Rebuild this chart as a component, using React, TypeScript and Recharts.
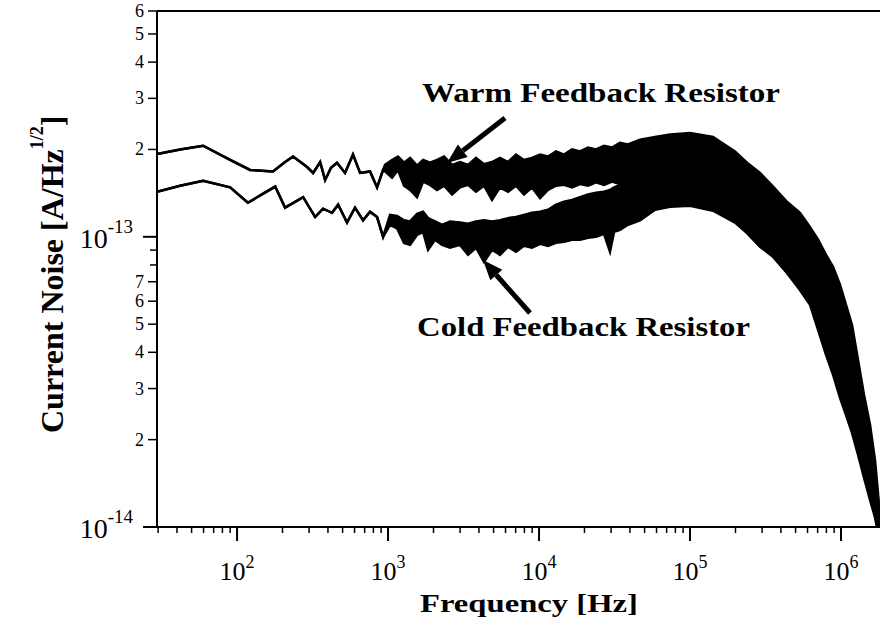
import React from 'react';
import { ComposedChart, Area, XAxis, YAxis, ReferenceLine } from 'recharts';

// amplitudes are in units of 1e-13 A/Hz^1/2
const UNIT = 1e-13;

const warmFreq = [
  29.5, 42, 59.6, 90, 122, 173, 208, 235, 291, 319, 355, 383, 419, 459, 519, 586, 653, 760, 846, 927,
  955, 1062, 1164, 1276, 1400, 1556, 1706, 1897, 2112, 2350, 2655, 2998, 3386, 3825, 4321, 4881, 5514,
  6229, 7036, 7948, 8979, 10160, 11470, 12960, 14640, 16540, 18680, 21100, 23840, 26930, 30420, 34360,
  38820, 46650, 58650, 73790, 100000, 141900, 198600, 238400, 291000, 354800, 438500, 534600, 623700,
  704700, 796000, 885100, 984000, 1079000, 1183000, 1297000, 1420000, 1556000, 1679000, 1812000,
];
const warmHi = [
  1.93, 2.0, 2.06, 1.84, 1.7, 1.68, 1.81, 1.89, 1.74, 1.66, 1.81, 1.57, 1.73, 1.8, 1.66, 1.92, 1.66, 1.68, 1.48, 1.7,
  1.77, 1.84, 1.89, 1.8, 1.87, 1.76, 1.84, 1.8, 1.84, 1.89, 1.77, 1.81, 1.77, 1.87, 1.78, 1.81, 1.87,
  1.81, 1.92, 1.84, 1.87, 1.92, 1.89, 1.97, 1.92, 2.0, 1.97, 2.03, 2.0, 2.06, 2.03, 2.11,
  2.08, 2.16, 2.21, 2.25, 2.28, 2.21, 1.97, 1.8, 1.66, 1.49, 1.32, 1.21, 1.08,
  0.977, 0.867, 0.788, 0.684, 0.583, 0.497, 0.376, 0.285, 0.225, 0.17, 0.11,
];
const warmLo = [
  1.93, 2.0, 2.06, 1.84, 1.7, 1.68, 1.81, 1.89, 1.74, 1.66, 1.81, 1.57, 1.73, 1.8, 1.66, 1.92, 1.66, 1.68, 1.48, 1.7,
  1.68, 1.6, 1.7, 1.5, 1.45, 1.37, 1.55, 1.51, 1.45, 1.5, 1.4, 1.48, 1.51, 1.43, 1.5, 1.34, 1.48,
  1.43, 1.5, 1.4, 1.48, 1.36, 1.45, 1.5, 1.51, 1.48, 1.52, 1.5, 1.54, 1.51, 1.55, 1.52,
  1.48, 1.34, 1.34, 1.4, 1.4, 1.34, 1.24, 1.14, 1.04, 0.938, 0.833, 0.739, 0.656,
  0.583, 0.478, 0.408, 0.335, 0.285, 0.243, 0.1995, 0.164, 0.134, 0.115, 0.09,
];

const coldFreq = [
  29.5, 42, 59.6, 90, 118, 146, 179, 208, 274, 329, 371, 426, 467, 535, 604, 683, 760, 846, 927,
  1031, 1147, 1276, 1400, 1556, 1706, 1841, 2048, 2279, 2574, 2998, 3386, 3825, 4321, 4881, 5514, 6229,
  7036, 7948, 8979, 10160, 11470, 12960, 14640, 16540, 18680, 21100, 23840, 26930, 29510, 31420, 34360,
  38820, 46650, 58650, 73790, 100000, 141900, 198600, 238400, 291000, 354800, 438500, 534600, 623700,
  704700, 796000, 885100, 984000, 1079000, 1183000, 1297000, 1420000, 1556000, 1679000, 1812000,
];
const coldHi = [
  1.43, 1.5, 1.56, 1.48, 1.31, 1.4, 1.49, 1.26, 1.37, 1.17, 1.25, 1.21, 1.29, 1.12, 1.26, 1.14, 1.22, 1.17, 1.0,
  1.19, 1.18, 1.14, 1.13, 1.2, 1.22, 1.16, 1.13, 1.1, 1.13, 1.12, 1.11, 1.13, 1.14, 1.13, 1.14, 1.16,
  1.17, 1.19, 1.21, 1.22, 1.24, 1.29, 1.32, 1.34, 1.37, 1.4, 1.42, 1.43, 1.45, 1.48, 1.51,
  1.57, 1.64, 1.64, 1.7, 1.7, 1.64, 1.51, 1.4, 1.29, 1.19, 1.057, 0.938, 0.833,
  0.739, 0.631, 0.538, 0.441, 0.376, 0.321, 0.253, 0.1995, 0.157, 0.129, 0.098,
];
const coldLo = [
  1.43, 1.5, 1.56, 1.48, 1.31, 1.4, 1.49, 1.26, 1.37, 1.17, 1.25, 1.21, 1.29, 1.12, 1.26, 1.14, 1.22, 1.17, 1.0,
  1.1, 1.07, 0.953, 0.938, 1.016, 1.04, 0.902, 0.977, 0.938, 0.917, 0.938, 0.867, 0.917, 0.82, 0.902, 0.867, 0.924,
  0.888, 0.931, 0.917, 0.946, 0.931, 0.953, 0.961, 0.977, 0.977, 0.992, 1.0, 1.024, 0.888, 1.04, 1.057,
  1.1, 1.14, 1.24, 1.27, 1.28, 1.23, 1.12, 1.03, 0.924, 0.853, 0.751, 0.656, 0.583,
  0.478, 0.392, 0.335, 0.279, 0.243, 0.211, 0.177, 0.148, 0.124, 0.108, 0.087,
];

const X_DOMAIN = [29.5, 1.812e6];
const Y_DOMAIN = [1e-14, 6e-13];

const xMajorTicks = [1e2, 1e3, 1e4, 1e5, 1e6];
const xMajorExp = ['2', '3', '4', '5', '6'];
const xMinorTicks = [
  30, 40, 50, 60, 70, 80, 90,
  200, 300, 400, 500, 600, 700, 800, 900,
  2000, 3000, 4000, 5000, 6000, 7000, 8000, 9000,
  20000, 30000, 40000, 50000, 60000, 70000, 80000, 90000,
  200000, 300000, 400000, 500000, 600000, 700000, 800000, 900000,
];

const yMajorTicks = [1e-14, 1e-13];
const yMajorExp = ['-14', '-13'];
const yMinorTicks = [2e-14, 3e-14, 4e-14, 5e-14, 6e-14, 7e-14, 8e-14, 9e-14, 2e-13, 3e-13, 4e-13, 5e-13, 6e-13];
const yMinorLabels = ['2', '3', '4', '5', '6', '7', '', '', '2', '3', '4', '5', '6'];

const FONT = '"Liberation Serif", "Times New Roman", Times, serif';

const toRows = (freq: number[], lo: number[], hi: number[]) =>
  freq.map((f, i) => ({ f, band: [lo[i] * UNIT, hi[i] * UNIT] }));

const warmRows = toRows(warmFreq, warmLo, warmHi);
const coldRows = toRows(coldFreq, coldLo, coldHi);

const XTick = (props: any) => {
  const { x, y, payload } = props;
  const k = xMajorTicks.indexOf(payload.value);
  if (k < 0) {
    return <line x1={x} x2={x} y1={y} y2={y + 6} stroke="#000" strokeWidth={1.5} />;
  }
  return (
    <g>
      <line x1={x} x2={x} y1={y} y2={y + 14} stroke="#000" strokeWidth={2} />
      <text x={x} y={y + 53} textAnchor="middle" fontFamily={FONT} fontSize={26} fill="#000">
        10<tspan dy={-12} fontSize={18}>{xMajorExp[k]}</tspan>
      </text>
    </g>
  );
};

const YTick = (props: any) => {
  const { x, y, payload } = props;
  const k = yMajorTicks.indexOf(payload.value);
  if (k >= 0) {
    return (
      <g>
        <line x1={x - 14} x2={x} y1={y} y2={y} stroke="#000" strokeWidth={2} />
        <text x={x - 24} y={y + 11} textAnchor="end" fontFamily={FONT} fontSize={28} fill="#000">
          10<tspan dy={-15} fontSize={19}>{yMajorExp[k]}</tspan>
        </text>
      </g>
    );
  }
  const m = yMinorTicks.indexOf(payload.value);
  const label = m >= 0 ? yMinorLabels[m] : '';
  return (
    <g>
      <line x1={x - (label ? 9 : 7)} x2={x} y1={y} y2={y} stroke="#000" strokeWidth={1.5} />
      {label && (
        <text x={x - 13} y={y + 6} textAnchor="end" fontFamily={FONT} fontSize={18} fill="#000">
          {label}
        </text>
      )}
    </g>
  );
};

const Annotations = () => (
  <svg
    width={880}
    height={623}
    style={{ position: 'absolute', left: 0, top: 0, pointerEvents: 'none' }}
  >
    <g fontFamily={FONT} fontWeight="bold" fill="#000">
      <text x={420} y={612} fontSize={26} textLength={218} lengthAdjust="spacingAndGlyphs">
        Frequency [Hz]
      </text>
      <text x={63} y={433} fontSize={32} transform="rotate(-90, 63, 433)">
        Current Noise [A/Hz<tspan dy={-20} fontSize={18}>1/2</tspan>
        <tspan dy={20}>]</tspan>
      </text>
      <text x={422} y={102} fontSize={28} textLength={358} lengthAdjust="spacingAndGlyphs">
        Warm Feedback Resistor
      </text>
      <text x={417} y={336} fontSize={28} textLength={333} lengthAdjust="spacingAndGlyphs">
        Cold Feedback Resistor
      </text>
    </g>
    <line x1={505} y1={118} x2={462.8} y2={150.7} stroke="#000" strokeWidth={5} />
    <polygon points="447,163 467.7,157 457.9,144.4" fill="#000" />
    <line x1={530} y1={313} x2={496.3} y2={275} stroke="#000" strokeWidth={5} />
    <polygon points="483,260 502.3,269.7 490.3,280.3" fill="#000" />
  </svg>
);

export default function App() {
  return (
    <div style={{ position: 'absolute', left: 0, top: 0, width: 880, height: 623, background: '#fff' }}>
      <ComposedChart width={880} height={623} margin={{ top: 11, right: 0, bottom: 0, left: 0 }}>
        <XAxis
          dataKey="f"
          type="number"
          scale="log"
          domain={X_DOMAIN}
          allowDataOverflow
          ticks={[...xMinorTicks, ...xMajorTicks]}
          interval={0}
          tickLine={false}
          tickSize={0}
          tickMargin={0}
          tick={XTick}
          axisLine={{ stroke: '#000', strokeWidth: 2 }}
          height={96}
        />
        <YAxis
          type="number"
          scale="log"
          domain={Y_DOMAIN}
          allowDataOverflow
          ticks={[...yMajorTicks, ...yMinorTicks]}
          interval={0}
          tickLine={false}
          tickSize={0}
          tickMargin={0}
          tick={YTick}
          axisLine={{ stroke: '#000', strokeWidth: 2 }}
          width={157}
        />
        <ReferenceLine y={Y_DOMAIN[1]} stroke="#000" strokeWidth={2} />
        <Area
          data={warmRows}
          dataKey="band"
          type="linear"
          stroke="#000"
          strokeWidth={2.5}
          fill="#000"
          fillOpacity={1}
          dot={false}
          activeDot={false}
          isAnimationActive={false}
        />
        <Area
          data={coldRows}
          dataKey="band"
          type="linear"
          stroke="#000"
          strokeWidth={2.5}
          fill="#000"
          fillOpacity={1}
          dot={false}
          activeDot={false}
          isAnimationActive={false}
        />
      </ComposedChart>
      <Annotations />
    </div>
  );
}
